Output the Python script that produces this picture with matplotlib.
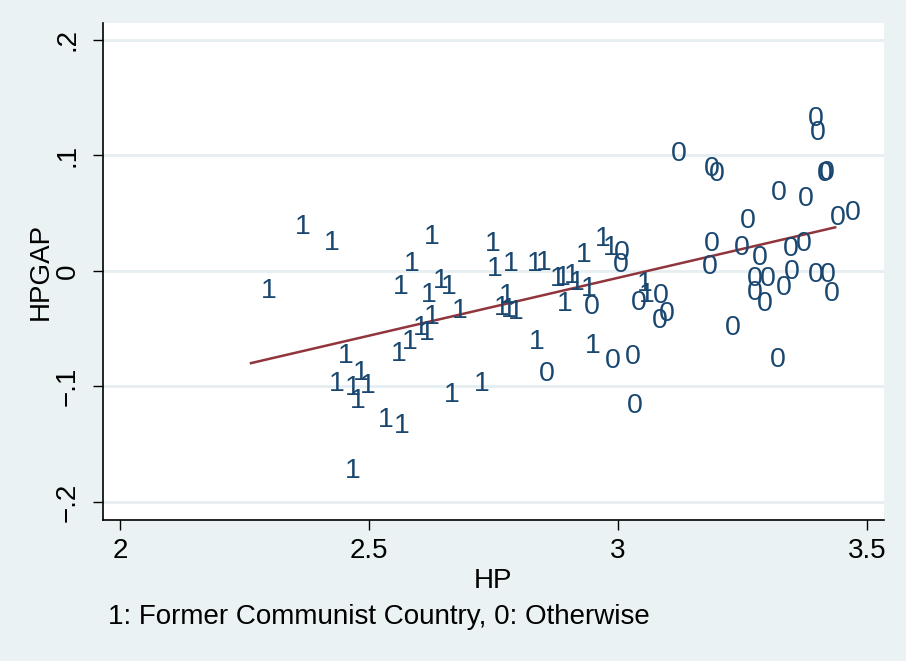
import numpy as np
import matplotlib.pyplot as plt

plt.rcParams['font.family'] = ['Liberation Sans', 'DejaVu Sans']

# former communist countries (label "1")
hp_1 = [2.263, 2.331, 2.388, 2.590, 2.550, 2.528, 2.608, 2.624, 2.584, 2.590,
        2.645, 2.568, 2.580, 2.546, 2.524, 2.418, 2.398, 2.448, 2.432, 2.462,
        2.442, 2.498, 2.530, 2.432, 2.629, 2.691, 2.713, 2.717, 2.749, 2.797,
        2.815, 2.843, 2.853, 2.871, 2.880, 2.906, 2.894, 2.934, 2.950, 2.741,
        2.731, 2.745, 2.759, 2.857, 2.801, 2.914, 3.018, 3.022]
gap_1 = [-0.0165, 0.0390, 0.0251, 0.0303, 0.0069, -0.0130, -0.0078, -0.0130, -0.0199, -0.0390,
         -0.0338, -0.0485, -0.0528, -0.0606, -0.0710, -0.0727, -0.0970, -0.0874, -0.1004, -0.0987,
         -0.1117, -0.1280, -0.1333, -0.1723, -0.1065, -0.0970, 0.0242, 0.0026, 0.0069, 0.0069,
         0.0078, -0.0061, -0.0052, -0.0035, -0.0095, -0.0147, 0.0147, 0.0286, 0.0208, -0.0208,
         -0.0312, -0.0329, -0.0346, -0.0277, -0.0606, -0.0641, -0.0104, -0.0199]

# other countries (label "0")
hp_0 = [3.086, 3.153, 3.163, 3.361, 3.365, 3.380, 3.384, 3.287, 3.341, 3.225,
        3.406, 3.436, 3.153, 3.149, 3.213, 3.249, 3.311, 3.337, 3.239, 3.265,
        3.239, 3.259, 3.297, 3.313, 3.361, 3.386, 3.394, 3.195, 3.285, 2.972,
        2.970, 2.912, 3.006, 3.050, 3.048, 3.062, 2.954, 2.994, 2.998, 2.821]
gap_0 = [0.1022, 0.0892, 0.0848, 0.1325, 0.1203, 0.0848, 0.0857, 0.0684, 0.0632, 0.0442,
         0.0468, 0.0511, 0.0242, 0.0043, 0.0208, 0.0121, 0.0199, 0.0242, -0.0061, -0.0061,
         -0.0182, -0.0277, -0.0139, 0.0000, -0.0026, -0.0026, -0.0190, -0.0485, -0.0762, 0.0165,
         0.0061, -0.0303, -0.0268, -0.0208, -0.0424, -0.0364, -0.0771, -0.0736, -0.1160, -0.0883]

x_ticks = [2, 2.5, 3, 3.5]
x_tick_labels = ['2', '2.5', '3', '3.5']
y_ticks = [-0.2, -0.1, 0, 0.1, 0.2]
y_tick_labels = ['\u2212.2', '\u2212.1', '0', '.1', '.2']

navy = '#1A476F'
bg = '#EAF2F3'
fs = 20

fig = plt.figure(figsize=(9.06, 6.61), dpi=100, facecolor=bg)
ax = fig.add_axes([103 / 906, 1 - 520 / 661, 781 / 906, 497 / 661])
ax.set_facecolor('white')

for y in y_ticks:
    ax.axhline(y, color='#E6EEF1', lw=2, zorder=0)

for x, y in zip(hp_1, gap_1):
    ax.annotate('1', (x, y), xytext=(13, -1), textcoords='offset points',
                ha='center', va='center', fontsize=20.5, color=navy)
for x, y in zip(hp_0, gap_0):
    ax.annotate('0', (x, y), xytext=(13, -1), textcoords='offset points',
                ha='center', va='center', fontsize=20.5, color=navy)

# linear fit
all_x = np.array(hp_1 + hp_0)
all_y = np.array(gap_1 + gap_0)
b, a = np.polyfit(all_x, all_y, 1)
xs = np.array([all_x.min(), all_x.max()])
ax.plot(xs, a + b * xs, color='#90353B', lw=1.8)

ax.set_xlim(1.9659, 3.5341)
ax.set_ylim(-0.2156, 0.2147)
ax.set_xticks(x_ticks)
ax.set_xticklabels(x_tick_labels)
ax.set_yticks(y_ticks)
ax.set_yticklabels(y_tick_labels, rotation=90, va='center')
ax.tick_params(axis='both', length=7, width=1, labelsize=fs)
ax.tick_params(axis='x', pad=6)
ax.tick_params(axis='y', pad=9)
for s in ['top', 'right']:
    ax.spines[s].set_visible(False)
for s in ['left', 'bottom']:
    ax.spines[s].set_linewidth(1.2)

ax.set_xlabel('HP', fontsize=fs, labelpad=3)
ax.set_ylabel('HPGAP', fontsize=fs, labelpad=1)

fig.text(108 / 906, 1 - 617 / 661, '1: Former Communist Country, 0: Otherwise',
         fontsize=fs, va='center', ha='left')

fig.savefig('out.png', dpi=100, facecolor=bg)
